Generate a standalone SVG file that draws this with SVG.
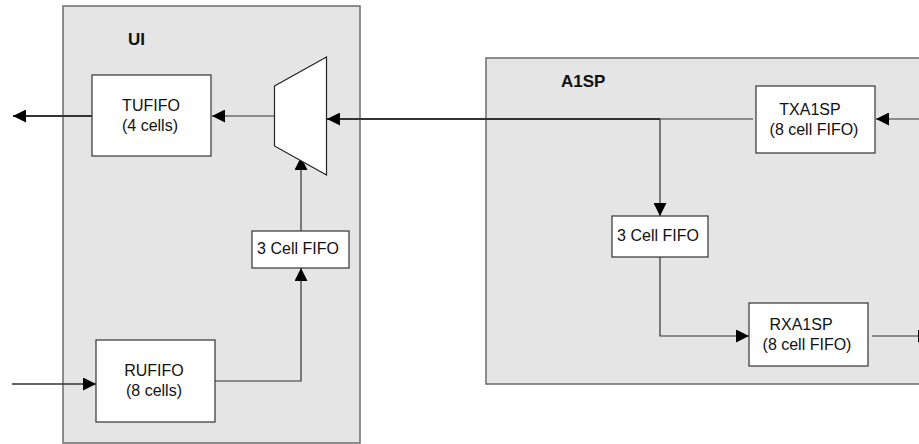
<svg xmlns="http://www.w3.org/2000/svg" width="919" height="444" viewBox="0 0 919 444">
<style>
.cont{fill:#e5e5e5;stroke:#6b6b6b;stroke-width:1.5}
.box{fill:#fff;stroke:#333;stroke-width:1.2}
.t{font-family:"Liberation Sans",Arial,sans-serif;font-size:16px;fill:#111;text-anchor:middle}
.h{font-family:"Liberation Sans",Arial,sans-serif;font-size:17px;font-weight:bold;fill:#111}
.c{fill:none;stroke:#333;stroke-width:1.2}
.ca{fill:none;stroke:#333;stroke-width:1.2;marker-end:url(#ah)}
</style>
<defs>
<marker id="ah" markerUnits="userSpaceOnUse" markerWidth="14" markerHeight="13" refX="13" refY="6.5" orient="auto">
<path d="M0,0 L13,6.5 L0,13 z" fill="#000"/>
</marker>
</defs>
<rect width="919" height="444" fill="#fff"/>
<g id="UI">
<rect class="cont" x="63" y="6" width="297" height="437"/>
<text class="h" x="128" y="45">UI</text>
</g>
<g id="A1SP">
<rect class="cont" x="486" y="58" width="445" height="326"/>
<text class="h" x="561" y="87">A1SP</text>
</g>
<g id="connectors">
<path class="ca" d="M92,116 H13" style="stroke-width:2"/>
<path class="ca" d="M274,116 H212"/>
<path class="ca" d="M919,119 H876"/>
<path class="ca" d="M660,119 H327" style="stroke-width:2"/>
<path class="c" d="M753,119 H660"/>
<path class="ca" d="M660,119 V216"/>
<path class="ca" d="M660,257 V336 H749"/>
<path class="ca" d="M872,336 H931"/>
<path class="ca" d="M12,384 H96" style="stroke-width:1.5"/>
<path class="ca" d="M215,381 H301 V268"/>
<path class="ca" d="M301,231 V157"/>
</g>
<g id="TUFIFO">
<rect class="box" x="92" y="75" width="119" height="81"/>
<text class="t" x="151" y="111">TUFIFO</text>
<text class="t" x="150" y="131">(4 cells)</text>
</g>
<g id="MUX">
<polygon points="274.5,86 326.5,57 326.5,175 274.5,146" fill="#fff" stroke="#222" stroke-width="1.2"/>
</g>
<g id="FIFO3_UI">
<rect class="box" x="252" y="231" width="97" height="37"/>
<text class="t" x="298" y="254">3 Cell FIFO</text>
</g>
<g id="RUFIFO">
<rect class="box" x="96" y="340" width="119" height="82"/>
<text class="t" x="154" y="376">RUFIFO</text>
<text class="t" x="154" y="396">(8 cells)</text>
</g>
<g id="TXA1SP">
<rect class="box" x="756" y="86" width="119" height="67"/>
<text class="t" x="810" y="115">TXA1SP</text>
<text class="t" x="814" y="135">(8 cell FIFO)</text>
</g>
<g id="FIFO3_A1SP">
<rect class="box" x="612" y="216" width="96" height="41"/>
<text class="t" x="658" y="241">3 Cell FIFO</text>
</g>
<g id="RXA1SP">
<rect class="box" x="749" y="303" width="119" height="63"/>
<text class="t" x="801" y="330">RXA1SP</text>
<text class="t" x="807" y="350">(8 cell FIFO)</text>
</g>
</svg>
